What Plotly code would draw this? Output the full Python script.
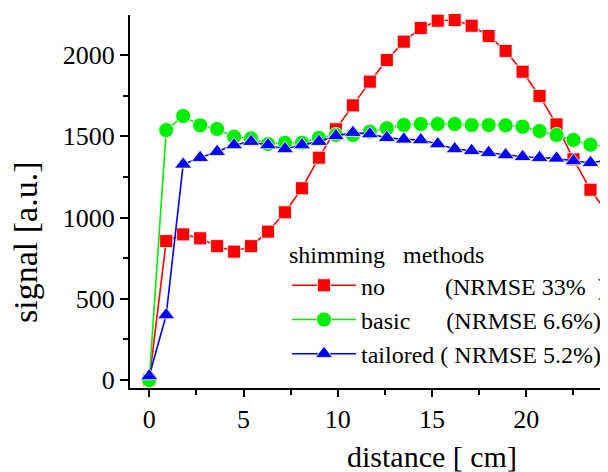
import plotly.graph_objects as go

step_cm = 0.9
n_points = 28
distance = [round(i * step_cm, 2) for i in range(n_points)]

no_shim = [0, 855, 896, 872, 824, 790, 824, 913, 1032, 1180, 1368, 1543, 1690, 1836,
           1969, 2082, 2166, 2211, 2215, 2180, 2117, 2025, 1897, 1748, 1573, 1358, 1171, 1026]
basic = [0, 1538, 1625, 1567, 1545, 1497, 1487, 1452, 1460, 1460, 1490, 1508, 1508, 1528,
         1549, 1569, 1575, 1575, 1575, 1569, 1569, 1567, 1559, 1532, 1508, 1477, 1448, 1436]
tailored = [25, 400, 1327, 1368, 1405, 1446, 1467, 1446, 1422, 1446, 1467, 1502, 1522, 1514,
            1491, 1481, 1477, 1452, 1422, 1411, 1399, 1385, 1374, 1368, 1364, 1348, 1337, 1352]

NB = "\u00a0"
names = [
    "no" + NB * 10 + "(NRMSE 33%" + NB * 2 + ")",
    "basic" + NB * 6 + "(NRMSE 6.6%)",
    "tailored" + NB + "(" + NB + "NRMSE 5.2%)",
]
series = [no_shim, basic, tailored]
colors = ["#ff0000", "#00ee00", "#0000ff"]
symbols = ["square", "circle", "triangle-up"]
sizes = [13, 15, 15]

FONT = "Liberation Serif"

# page body has an 8px margin, so figure coordinates are screen coordinates minus 8
W, H = 600, 464
L, T, B = 122, 7, 84
PW, PH = W - L, H - T - B

fig = go.Figure()
for name, ys, c, s, sz in zip(names, series, colors, symbols, sizes):
    fig.add_trace(go.Scatter(
        x=distance, y=ys, name=name, mode="lines+markers",
        line=dict(color=c, width=1.6),
        marker=dict(symbol=s, size=sz, color=c, line=dict(color="white", width=0.8)),
        cliponaxis=False,
    ))

fig.update_layout(
    width=W, height=H,
    margin=dict(l=L, r=0, t=T, b=B, autoexpand=False),
    paper_bgcolor="white", plot_bgcolor="white",
    font=dict(family=FONT, size=26, color="black"),
    showlegend=True,
    legend=dict(
        x=(287 - 8 - L) / PW, y=1 - (232 - 8 - T) / PH, xanchor="left", yanchor="top",
        bgcolor="rgba(0,0,0,0)", borderwidth=0,
        font=dict(family=FONT, size=24, color="black"),
        title=dict(text="shimming" + NB * 3 + "methods", font=dict(family=FONT, size=24)),
        itemwidth=64, tracegroupgap=0,
    ),
    xaxis=dict(
        range=[-1.02, 24.33], showgrid=False, zeroline=False,
        showline=True, linecolor="black", linewidth=2,
        ticks="outside", ticklen=7, tickwidth=1.5, tickcolor="black",
        tickmode="array", tickvals=[0, 5, 10, 15, 20], ticktext=["0", "5", "10", "15", "20"],
        minor=dict(tickvals=[2.5, 7.5, 12.5, 17.5, 22.5], ticks="outside", ticklen=5, tickwidth=1.5, tickcolor="black"),
        tickfont=dict(family=FONT, size=26),
    ),
    yaxis=dict(
        range=[-49, 2246], showgrid=False, zeroline=False,
        showline=True, linecolor="black", linewidth=2,
        ticks="outside", ticklen=8, tickwidth=1.5, tickcolor="black",
        tickmode="array", tickvals=[0, 500, 1000, 1500, 2000],
        minor=dict(tickvals=[250, 750, 1250, 1750], ticks="outside", ticklen=5, tickwidth=1.5, tickcolor="black"),
        tickfont=dict(family=FONT, size=26),
    ),
    annotations=[
        dict(text="distance [ cm]", xref="paper", yref="paper", x=(432 - 8 - L) / PW, y=-(456 - 8 - (H - B)) / PH,
             xanchor="center", yanchor="middle", showarrow=False, font=dict(family=FONT, size=30)),
        dict(text="signal [a.u.]", xref="paper", yref="paper", x=(25 - 8 - L) / PW, y=1 - (243 - 8 - T) / PH,
             xanchor="center", yanchor="middle", textangle=-90, showarrow=False, font=dict(family=FONT, size=34)),
    ],
)

fig.write_html("out.html")
